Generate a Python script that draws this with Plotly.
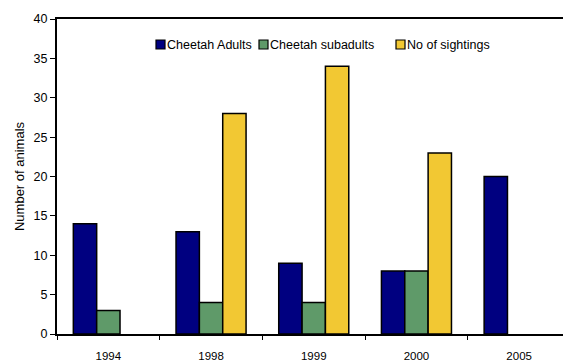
import plotly.graph_objects as go

# Survey years and counts per group
years = ["1994", "1998", "1999", "2000", "2005"]
adults = [14, 13, 9, 8, 20]
subadults = [3, 4, 4, 8, None]
sightings = [None, 28, 34, 23, None]

series = [
    ("Cheetah Adults", adults, "#000080"),
    ("Cheetah subadults", subadults, "#5f9a69"),
    ("No of sightings", sightings, "#f2c833"),
]

W, H = 563, 361
ML, MR, MT, MB = 57, 0, 19, 27
PW, PH = W - ML - MR, H - MT - MB


def fx(px):
    return (px - ML) / PW


def fy(py):
    return (H - MB - py) / PH


fig = go.Figure()
for name, vals, color in series:
    fig.add_trace(go.Bar(
        x=years, y=vals, name=name, showlegend=False,
        marker=dict(color=color, line=dict(color="black", width=1.5)),
    ))

# Compact key row across the top of the plot
key_left = [156, 259, 396]
key_y = 44.5
for (name, _, color), left in zip(series, key_left):
    fig.add_shape(
        type="rect", xref="paper", yref="paper",
        x0=fx(left), x1=fx(left + 9), y0=fy(key_y + 4.5), y1=fy(key_y - 4.5),
        fillcolor=color, line=dict(color="black", width=1.2),
    )
    fig.add_annotation(
        xref="paper", yref="paper", x=fx(left + 10), y=fy(key_y),
        xanchor="left", yanchor="middle", text=name, showarrow=False,
        font=dict(size=12.5), borderpad=0,
    )

fig.update_layout(
    width=W, height=H,
    margin=dict(l=ML, r=MR, t=MT, b=MB),
    paper_bgcolor="white", plot_bgcolor="white",
    font=dict(family="Liberation Sans, Arial, sans-serif", size=12, color="black"),
    barmode="group", bargap=0.318, bargroupgap=0,
    showlegend=False,
)
fig.update_xaxes(
    type="category", range=[-0.5, 4.427], automargin=False,
    showline=True, linecolor="black", linewidth=2, mirror=True,
    ticks="outside", tickson="boundaries", ticklen=4, tickcolor="black",
    ticklabelstandoff=10, showgrid=False, tickfont=dict(size=11.5),
)
fig.update_yaxes(
    range=[0, 40], dtick=5, automargin=False,
    showline=True, linecolor="black", linewidth=2,
    ticks="outside", ticklen=5, tickcolor="black",
    showgrid=False, zeroline=False, tickfont=dict(size=12.5),
    title=dict(text="Number of animals", font=dict(size=13), standoff=6),
)

fig.write_html("out.html")
